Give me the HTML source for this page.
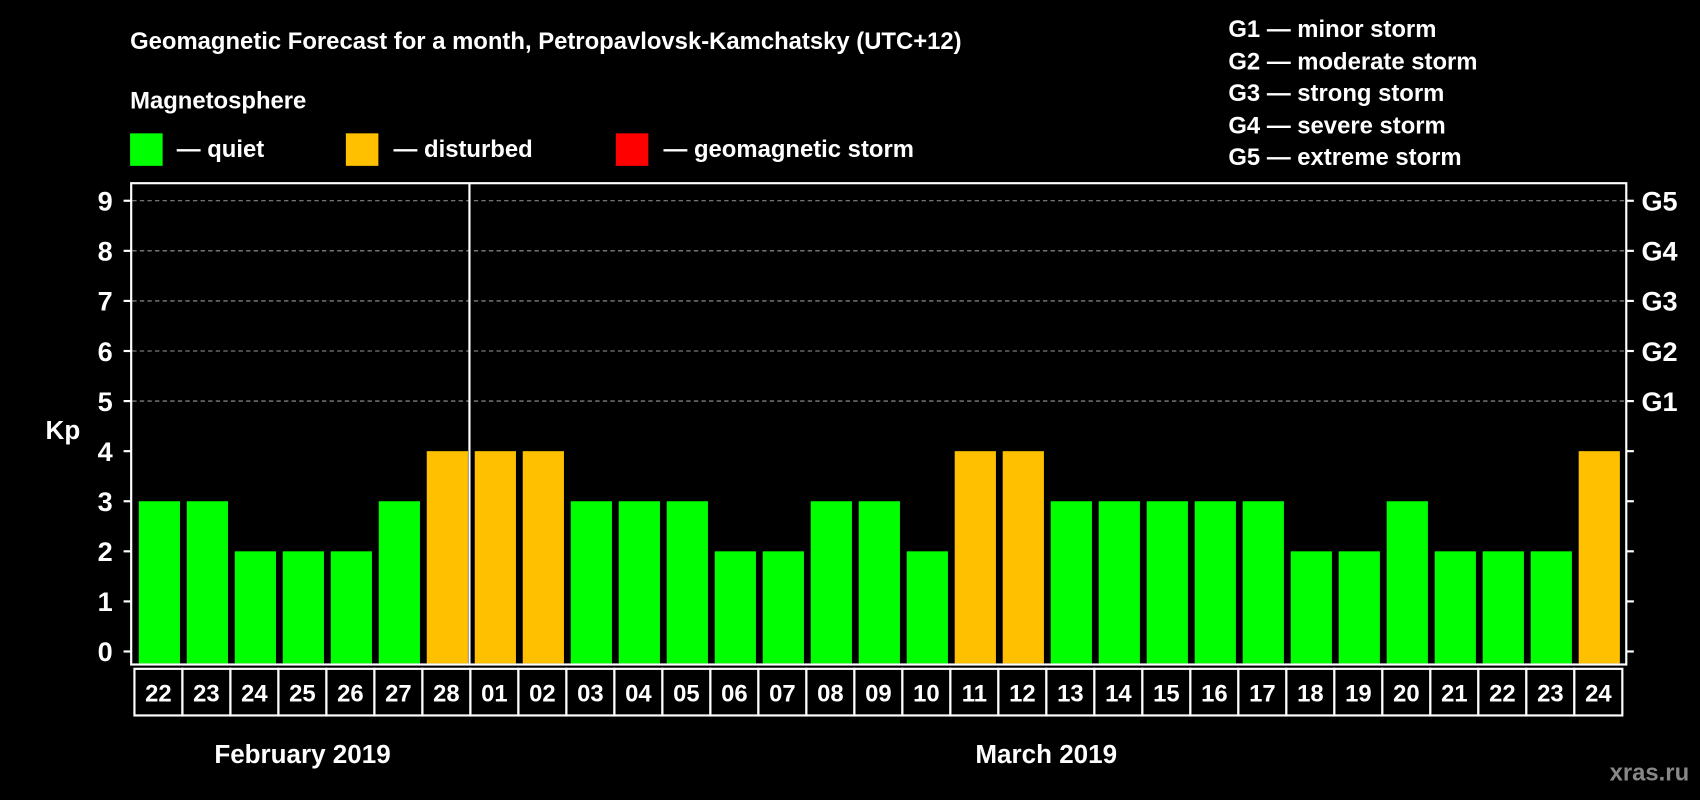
<!DOCTYPE html>
<html><head><meta charset="utf-8"><style>
html,body{margin:0;padding:0;background:#000;}
svg{display:block;font-family:"Liberation Sans",Arial,sans-serif;font-weight:bold;}
</style></head><body>
<svg id="chart" width="1700" height="800" viewBox="0 0 1568 738" preserveAspectRatio="none" xmlns="http://www.w3.org/2000/svg">
<rect width="1568" height="738" fill="#000"/>
<text x="120" y="45" fill="#fff" font-size="22">Geomagnetic Forecast for a month, Petropavlovsk-Kamchatsky (UTC+12)</text>
<text x="120" y="100" fill="#fff" font-size="22">Magnetosphere</text>
<rect x="120" y="123" width="30" height="30" fill="#00ff00"/>
<text x="163" y="145" fill="#fff" font-size="22">— quiet</text>
<rect x="319" y="123" width="30" height="30" fill="#ffc000"/>
<text x="363" y="145" fill="#fff" font-size="22">— disturbed</text>
<rect x="568" y="123" width="30" height="30" fill="#ff0000"/>
<text x="612" y="145" fill="#fff" font-size="22">— geomagnetic storm</text>
<g fill="#fff" font-size="22">
<text x="1133" y="34">G1 — minor storm</text>
<text x="1133" y="64">G2 — moderate storm</text>
<text x="1133" y="93">G3 — strong storm</text>
<text x="1133" y="123">G4 — severe storm</text>
<text x="1133" y="152">G5 — extreme storm</text>
</g>
<text x="58" y="405" fill="#fff" font-size="24" text-anchor="middle">Kp</text>
<g id="grid"></g>
<g id="bars"></g>
<rect x="121" y="169" width="1379" height="444" fill="none" stroke="#fff" stroke-width="2"/>
<line x1="433" y1="169" x2="433" y2="613" stroke="#fff" stroke-width="2"/>
<g id="xlabels"></g>
<text x="279" y="704" fill="#fff" font-size="24" text-anchor="middle">February 2019</text>
<text x="965" y="704" fill="#fff" font-size="24" text-anchor="middle">March 2019</text>
<text x="1558" y="720" fill="#888" font-size="22" text-anchor="end">xras.ru</text>
</svg>
<script>
const days = ["22","23","24","25","26","27","28","01","02","03","04","05","06","07","08","09","10","11","12","13","14","15","16","17","18","19","20","21","22","23","24"];
const kp = [3,3,2,2,2,3,4,4,4,3,3,3,2,2,3,3,2,4,4,3,3,3,3,3,2,2,3,2,2,2,4];
const yTicks = [0,1,2,3,4,5,6,7,8,9];
const gLabels = ["G1","G2","G3","G4","G5"];
const gLevels = [5,6,7,8,9];

const NS = "http://www.w3.org/2000/svg";
const y = v => 601 - v * 46.2;
const step = 44.27;
const x = i => 126 + i * step;
function mk(tag, attrs, parent) {
  const e = document.createElementNS(NS, tag);
  for (const k in attrs) e.setAttribute(k, attrs[k]);
  parent.appendChild(e);
  return e;
}
const grid = document.getElementById('grid');
yTicks.forEach(t => {
  const l = mk('line', {x1: 114, x2: 121, y1: y(t), y2: y(t), stroke: '#fff', 'stroke-width': 2}, grid);
  
  
  const r = mk('line', {x1: 1500, x2: 1507, y1: y(t), y2: y(t), stroke: '#fff', 'stroke-width': 2}, grid);
  
  
  const tx = mk('text', {x: 104, y: y(t) + 9, fill: '#fff', 'font-size': 25, 'text-anchor': 'end'}, grid);
  tx.textContent = t;
  
  
});
gLevels.forEach((g, i) => {
  const gl = mk('line', {x1: 122, x2: 1499, y1: y(g), y2: y(g), stroke: '#999', 'stroke-width': 1, 'stroke-dasharray': '4,3'}, grid);
  
  
  const tx = mk('text', {x: 1514, y: y(g) + 9, fill: '#fff', 'font-size': 25}, grid);
  tx.textContent = gLabels[i];
  
  
});
const bars = document.getElementById('bars');
kp.forEach((v, i) => {
  const col = v >= 5 ? '#ff0000' : (v >= 4 ? '#ffc000' : '#00ff00');
  const b = mk('rect', {x: x(i) + 2, y: y(v), width: 38, height: 612 - y(v), fill: col}, bars);
  
  
});
const xl = document.getElementById('xlabels');
days.forEach((d, i) => {
  const r = mk('rect', {x: x(i) - 2, y: 617, width: step, height: 43, fill: '#000', stroke: '#fff', 'stroke-width': 2}, xl);
  
  
  const t = mk('text', {x: x(i) - 2 + step / 2, y: 647, fill: '#fff', 'font-size': 22, 'text-anchor': 'middle'}, xl);
  t.textContent = d;
  
  
});
</script>
</body></html>
